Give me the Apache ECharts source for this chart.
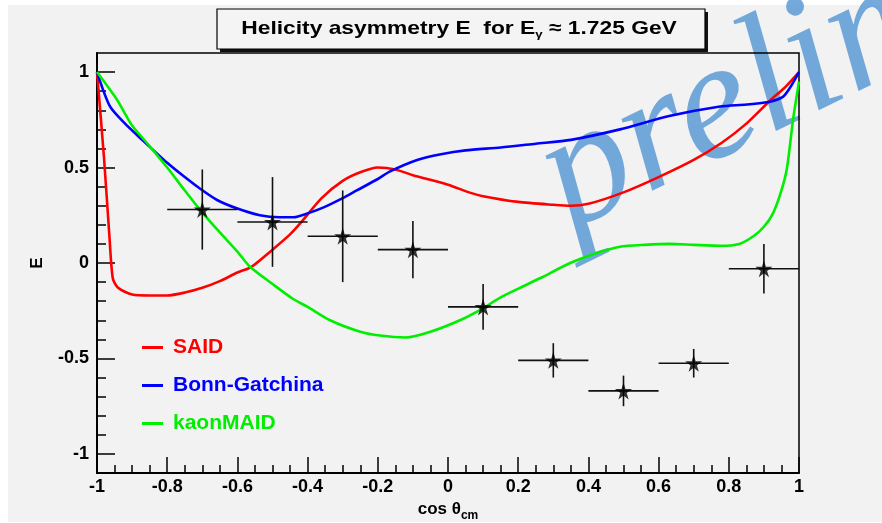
<!DOCTYPE html>
<html>
<head>
<meta charset="utf-8">
<script src="https://cdn.jsdelivr.net/npm/echarts@6/dist/echarts.min.js"></script>
<style>
  html, body { margin: 0; padding: 0; background: #fff; }
  #chart { width: 882px; height: 523px; }
</style>
</head>
<body>
<div id="chart"></div>
<script>
// model curves, [cos theta, E]
const saidCurve = [
  [-1, 1.0], [-0.98, 0.55], [-0.965, 0.15], [-0.955, -0.08], [-0.94, -0.13], [-0.9, -0.165],
  [-0.85, -0.17], [-0.8, -0.17], [-0.75, -0.155], [-0.7, -0.13], [-0.65, -0.095], [-0.6, -0.05],
  [-0.56, -0.02], [-0.5, 0.07], [-0.45, 0.15], [-0.42, 0.21], [-0.36, 0.34], [-0.3, 0.43],
  [-0.25, 0.475], [-0.2, 0.5], [-0.15, 0.49], [-0.1, 0.46], [0, 0.41], [0.06, 0.37], [0.1, 0.35],
  [0.2, 0.32], [0.3, 0.305], [0.35, 0.3], [0.4, 0.31], [0.5, 0.37], [0.6, 0.45], [0.7, 0.54],
  [0.78, 0.63], [0.85, 0.73], [0.92, 0.855], [0.96, 0.92], [1, 1.0]
];
const bonnCurve = [
  [-1, 1.0], [-0.963, 0.82], [-0.92, 0.73], [-0.877, 0.655], [-0.8, 0.525], [-0.75, 0.45],
  [-0.707, 0.39], [-0.658, 0.33], [-0.6, 0.285], [-0.536, 0.25], [-0.48, 0.24], [-0.44, 0.24],
  [-0.4, 0.26], [-0.356, 0.29], [-0.3, 0.34], [-0.26, 0.38], [-0.2, 0.44], [-0.165, 0.48],
  [-0.088, 0.54], [-0.02, 0.57], [0.05, 0.59], [0.15, 0.605], [0.25, 0.625], [0.35, 0.645],
  [0.49, 0.7], [0.63, 0.77], [0.775, 0.82], [0.85, 0.83], [0.917, 0.845], [0.954, 0.87],
  [0.975, 0.92], [1, 1.0]
];
const maidCurve = [
  [-1, 1.0], [-0.943, 0.855], [-0.9, 0.72], [-0.849, 0.61], [-0.8, 0.5], [-0.75, 0.38],
  [-0.707, 0.28], [-0.65, 0.16], [-0.6, 0.06], [-0.564, -0.02], [-0.5, -0.11], [-0.44, -0.19],
  [-0.4, -0.23], [-0.336, -0.3], [-0.25, -0.36], [-0.194, -0.38], [-0.12, -0.39], [-0.05, -0.36],
  [0.034, -0.3], [0.097, -0.24], [0.15, -0.18], [0.205, -0.13], [0.262, -0.08], [0.348, 0.0],
  [0.42, 0.05], [0.49, 0.085], [0.56, 0.095], [0.632, 0.1], [0.7, 0.095], [0.775, 0.09],
  [0.83, 0.1], [0.87, 0.14], [0.9, 0.19], [0.926, 0.26], [0.95, 0.38], [0.966, 0.5],
  [0.983, 0.75], [1, 0.95]
];

// measured points
const pointCos = [-0.7, -0.5, -0.3, -0.1, 0.1, 0.3, 0.5, 0.7, 0.9];
const pointE = [0.28, 0.215, 0.14, 0.07, -0.23, -0.51, -0.67, -0.525, -0.03];
const pointErrE = [0.21, 0.235, 0.24, 0.15, 0.12, 0.09, 0.08, 0.075, 0.13];
const pointErrCos = [0.1, 0.1, 0.1, 0.1, 0.1, 0.1, 0.1, 0.1, 0.1];

const yMajor = [-1, -0.5, 0, 0.5, 1];
const yMinor = [-1, -0.9, -0.8, -0.7, -0.6, -0.5, -0.4, -0.3, -0.2, -0.1, 0, 0.1, 0.2, 0.3, 0.4, 0.5, 0.6, 0.7, 0.8, 0.9, 1];

const legendNames = ['SAID', 'Bonn-Gatchina', 'kaonMAID'];
const curveColors = ['#ff0000', '#0000ff', '#00ee00'];

const starPath = 'path://M50,0 L61,35 L98,35 L68,57 L79,91 L50,70 L21,91 L32,57 L2,35 L39,35 Z';
const font = '"Liberation Sans", Arial, sans-serif';

const errData = pointCos.map((c, i) => [c, pointE[i], pointErrCos[i], pointErrE[i]]);
const starData = pointCos.map((c, i) => [c, pointE[i]]);

const renderErr = (params, api) => {
  const x = api.value(0);
  const y = api.value(1);
  const ex = api.value(2);
  const ey = api.value(3);
  const l = api.coord([x - ex, y]);
  const r = api.coord([x + ex, y]);
  const t = api.coord([x, y + ey]);
  const b = api.coord([x, y - ey]);
  const style = { stroke: '#111', lineWidth: 1.6 };

  return {
    type: 'group',
    children: [
      { type: 'line', shape: { x1: l[0], y1: l[1], x2: r[0], y2: r[1] }, style },
      { type: 'line', shape: { x1: t[0], y1: t[1], x2: b[0], y2: b[1] }, style },
    ],
  };
};

const lineSeries = (name, data, color) => ({
  name,
  type: 'line',
  data,
  smooth: 0.25,
  showSymbol: false,
  symbol: 'none',
  color,
  lineStyle: { color, width: 2.6 },
  z: 3,
});

const myChart = echarts.init(document.getElementById('chart'));

myChart.setOption({
  animation: false,
  backgroundColor: '#ffffff',
  graphic: [
    {
      type: 'rect',
      shape: { x: 8, y: 5, width: 874, height: 517 },
      style: { fill: '#f2f2f2' },
      z: -10,
    },
    {
      type: 'text',
      x: 587,
      y: 267,
      rotation: 0.45,
      style: {
        text: 'preliminary',
        fontStyle: 'italic',
        fontSize: 170,
        fontFamily: 'Liberation Serif',
        fill: '#5b9bd5',
        opacity: 0.85,
        textAlign: 'left',
        textVerticalAlign: 'bottom',
      },
      z: -5,
    },
    {
      type: 'rect',
      shape: { x: 220, y: 12, width: 488, height: 40 },
      style: { fill: '#111' },
      z: 10,
    },
    {
      type: 'rect',
      shape: { x: 217, y: 9, width: 488, height: 40 },
      style: { fill: '#f4f4f4', stroke: '#000', lineWidth: 1.2 },
      z: 11,
    },
    {
      type: 'text',
      x: 459,
      y: 29,
      scaleX: 1.2,
      style: {
        text: 'Helicity asymmetry E  for E{sub|γ} ≈ 1.725 GeV',
        rich: {
          sub: { fontSize: 11, fontWeight: 'bold', fontFamily: font, fill: '#000', padding: [12, 0, 0, 0] },
        },
        font: 'bold 19px ' + font,
        fill: '#000',
        textAlign: 'center',
        textVerticalAlign: 'middle',
      },
      z: 12,
    },
  ],
  grid: {
    left: 97,
    right: 83,
    top: 53,
    bottom: 50,
    outerBoundsMode: 'none',
    show: true,
    backgroundColor: 'transparent',
    borderColor: '#000',
    borderWidth: 1.5,
  },
  legend: {
    data: legendNames.map((n, i) => ({ name: n, textStyle: { color: curveColors[i] } })),
    orient: 'vertical',
    left: 137,
    top: 332,
    itemWidth: 21,
    itemHeight: 3,
    itemGap: 17,
    icon: 'rect',
    textStyle: { fontFamily: font, fontWeight: 'bold', fontSize: 21, padding: [0, 0, 0, 5] },
  },
  xAxis: {
    type: 'value',
    min: -1,
    max: 1,
    interval: 0.2,
    name: 'cos θ{sub|cm}',
    nameLocation: 'middle',
    nameGap: 22,
    nameTextStyle: {
      color: '#000',
      fontFamily: font,
      fontWeight: 'bold',
      fontSize: 17,
      rich: { sub: { fontFamily: font, fontWeight: 'bold', fontSize: 12, color: '#000', padding: [12, 0, 0, 0] } },
    },
    axisLine: { show: true, onZero: false, lineStyle: { color: '#000', width: 2 } },
    axisTick: { show: true, inside: true, length: 16, lineStyle: { color: '#000', width: 1.5 } },
    minorTick: { show: true, splitNumber: 4, length: 8, lineStyle: { color: '#000', width: 1.5 } },
    splitLine: { show: false },
    axisLabel: { color: '#000', fontFamily: font, fontWeight: 'bold', fontSize: 18, margin: 5 },
  },
  yAxis: [
    {
      type: 'value',
      min: -1.1,
      max: 1.1,
      name: 'E',
      nameLocation: 'middle',
      nameGap: 51,
      nameRotate: 90,
      nameTextStyle: { color: '#000', fontFamily: font, fontWeight: 'bold', fontSize: 17 },
      axisLine: { show: true, onZero: false, lineStyle: { color: '#000', width: 2 } },
      axisTick: { show: true, inside: true, length: 18, customValues: yMajor, lineStyle: { color: '#000', width: 1.5 } },
      splitLine: { show: false },
      axisLabel: { color: '#000', fontFamily: font, fontWeight: 'bold', fontSize: 18, margin: 8, customValues: yMajor },
    },
    {
      type: 'value',
      min: -1.1,
      max: 1.1,
      position: 'left',
      axisLine: { show: false, onZero: false },
      axisTick: { show: true, inside: true, length: 9, customValues: yMinor, lineStyle: { color: '#000', width: 1.5 } },
      splitLine: { show: false },
      axisLabel: { show: false },
    },
  ],
  series: [
    lineSeries(legendNames[0], saidCurve, curveColors[0]),
    lineSeries(legendNames[1], bonnCurve, curveColors[1]),
    lineSeries(legendNames[2], maidCurve, curveColors[2]),
    {
      name: 'data-err',
      type: 'custom',
      renderItem: renderErr,
      data: errData,
      encode: { x: 0, y: 1 },
      z: 4,
    },
    {
      name: 'data',
      type: 'scatter',
      data: starData,
      symbol: starPath,
      symbolSize: 17,
      itemStyle: { color: '#000' },
      z: 5,
    },
  ],
});
</script>
</body>
</html>
